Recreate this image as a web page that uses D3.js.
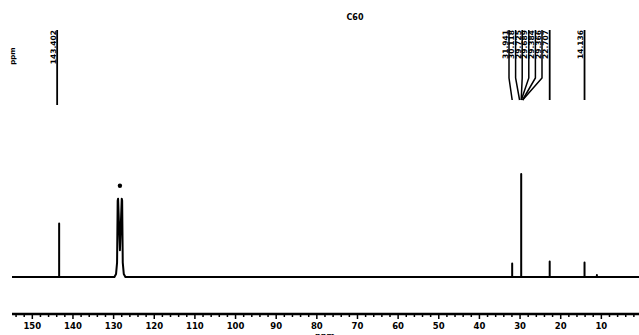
<!DOCTYPE html>
<html>
<head>
<meta charset="utf-8">
<script src="https://cdn.jsdelivr.net/npm/d3@7"></script>
<style>
  body { margin: 0; background: #fff; }
  svg { display: block; }
  text { font-family: "DejaVu Sans", sans-serif; font-weight: bold; fill: #000; }
</style>
</head>
<body>
<svg id="chart"></svg>
<script>
// 13C spectrum (ppm, relative intensity)
const peakPpm = [143.40, 31.94, 29.72, 22.71, 14.14, 11.1];
const peakHeight = [52, 13, 100, 15, 14, 2];

// solvent (C6D6) multiplet, drawn with its own width
const solventPpm = [129.8, 129.4, 129.15, 129.0, 128.9, 128.45, 128.0, 127.9, 127.75, 127.5, 127.1];
const solventHeight = [0, 3, 14, 74, 76, 26, 76, 74, 14, 3, 0];

const tickValues = [150, 140, 130, 120, 110, 100, 90, 80, 70, 60, 50, 40, 30, 20, 10, 0];

const labelLeft = ['143.402'];
const labelLeftPpm = [143.40];
const labelCluster = ['31.941', '30.118', '29.725', '29.689', '29.384', '29.366'];
const labelClusterPpm = [31.94, 30.12, 29.72, 29.69, 29.38, 29.37];
const labelSingle = ['22.707', '14.136'];
const labelSinglePpm = [22.71, 14.14];

const width = 639, height = 335;
const svg = d3.select('#chart').attr('width', width).attr('height', height);

const x = d3.scaleLinear().domain([155, 0]).range([12, 642]);
const y = d3.scaleLinear().domain([0, 100]).range([277, 174]);

// build spectrum trace: baseline with sticks, plus solvent shape
const pts = [[155, 0]];
const all = peakPpm.map((p, i) => ({ p, h: peakHeight[i], s: false }));
all.push({ p: 128.5, s: true });
all.sort((a, b) => b.p - a.p);
for (const pk of all) {
  if (pk.s) {
    solventPpm.forEach((p, i) => pts.push([p, solventHeight[i]]));
  } else {
    pts.push([pk.p, 0], [pk.p, pk.h], [pk.p, 0]);
  }
}
pts.push([0, 0]);

const line = d3.line().x(d => x(d[0])).y(d => y(d[1]));

svg.append('path')
  .datum(pts)
  .attr('fill', 'none')
  .attr('stroke', '#000')
  .attr('stroke-width', 2)
  .attr('stroke-linejoin', 'round')
  .attr('d', line);

// solvent marker
svg.append('circle')
  .attr('cx', x(128.45))
  .attr('cy', y(76) - 13)
  .attr('r', 2.2)
  .attr('fill', '#000');

// x axis
const axisY = 314;
const axis = svg.append('g').attr('transform', `translate(0,${axisY})`);
axis.append('line')
  .attr('x1', x(155)).attr('x2', x(0))
  .attr('stroke', '#000').attr('stroke-width', 2.5);
axis.selectAll('.minor')
  .data(d3.range(0, 155, 2))
  .join('line')
  .attr('x1', d => x(d)).attr('x2', d => x(d))
  .attr('y1', 0).attr('y2', d => d % 10 === 0 ? 5 : 3)
  .attr('stroke', '#000').attr('stroke-width', 1.5);
axis.selectAll('.lbl')
  .data(tickValues)
  .join('text')
  .attr('x', d => x(d))
  .attr('y', 15)
  .attr('text-anchor', 'middle')
  .attr('font-size', '8.5px')
  .text(d => d);

svg.append('text')
  .attr('x', 325).attr('y', 339)
  .attr('text-anchor', 'middle')
  .attr('font-size', '8px')
  .text('ppm');

// title
svg.append('text')
  .attr('x', 355).attr('y', 20)
  .attr('text-anchor', 'middle')
  .attr('font-size', '8px')
  .text('C60');

svg.append('text')
  .attr('transform', 'translate(15,56) rotate(-90)')
  .attr('text-anchor', 'middle')
  .attr('font-size', '7px')
  .text('ppm');

// peak labels
const labTop = 30, labBend = 78, labBottom = 100;
function vLabel(xp, txt) {
  svg.append('text')
    .attr('transform', `translate(${xp - 1.5},${labTop}) rotate(-90)`)
    .attr('text-anchor', 'end')
    .attr('font-size', '7.5px')
    .text(txt);
}

labelLeftPpm.forEach((p, i) => {
  const xp = x(p) - 2;
  svg.append('line')
    .attr('x1', xp).attr('x2', xp).attr('y1', labTop).attr('y2', labBottom + 5)
    .attr('stroke', '#000').attr('stroke-width', 1.8);
  vLabel(xp, labelLeft[i]);
});

labelClusterPpm.forEach((p, i) => {
  const xl = 509 + i * 6.6;
  svg.append('path')
    .attr('d', `M${xl},${labTop}V${labBend}L${x(p)},${labBottom}`)
    .attr('fill', 'none').attr('stroke', '#000').attr('stroke-width', 1.5);
  vLabel(xl, labelCluster[i]);
});

labelSinglePpm.forEach((p, i) => {
  const xp = x(p);
  svg.append('line')
    .attr('x1', xp).attr('x2', xp).attr('y1', labTop).attr('y2', labBottom)
    .attr('stroke', '#000').attr('stroke-width', 1.8);
  vLabel(xp, labelSingle[i]);
});
</script>
</body>
</html>
